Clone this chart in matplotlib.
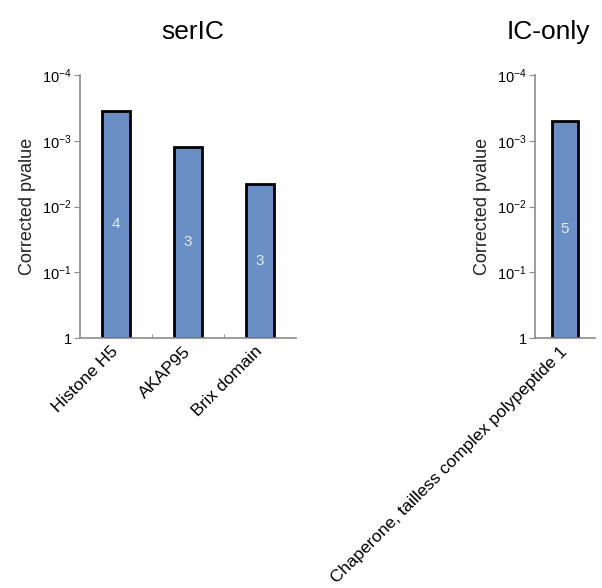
import matplotlib
matplotlib.use('Agg')
import matplotlib.pyplot as plt
from matplotlib.ticker import FixedLocator

plt.rcParams['font.family'] = ['Liberation Sans', 'DejaVu Sans']
plt.rcParams['mathtext.fontset'] = 'custom'
plt.rcParams['mathtext.rm'] = 'Liberation Sans'
plt.rcParams['mathtext.it'] = 'Liberation Sans'

# serIC panel
ser_terms = ['Histone H5', 'AKAP95', 'Brix domain']
ser_pvals = [3.5e-4, 1.23e-3, 4.5e-3]
ser_counts = [4, 3, 3]

# IC-only panel
ic_terms = ['Chaperone, tailless complex polypeptide 1']
ic_pvals = [5.0e-4]
ic_counts = [5]

y_ticks = [1, 1e-1, 1e-2, 1e-3, 1e-4]
y_labels = ['1', r'$10^{-1}$', r'$10^{-2}$', r'$10^{-3}$', r'$10^{-4}$']

BAR = '#6a8fc4'
GREY = '#8c8c8c'

fig = plt.figure(figsize=(6.02, 5.88), dpi=100)


def draw_panel(ax, terms, pvals, counts, width):
    x = list(range(len(terms)))
    ax.bar(x, [p - 1 for p in pvals], bottom=1, width=width,
           color=BAR, edgecolor='black', linewidth=2)
    ax.set_yscale('log')
    ax.set_ylim(1, 1e-4)
    ax.set_xlim(-0.5, len(terms) - 0.5)
    ax.yaxis.set_major_locator(FixedLocator(y_ticks))
    ax.set_yticklabels(y_labels)
    ax.yaxis.set_minor_locator(FixedLocator([]))
    ax.tick_params(axis='y', direction='out', length=4, color=GREY,
                   labelsize=10.5, pad=2)
    ax.set_xticks(x)
    ax.set_xticklabels(terms, rotation=45, ha='right', va='center',
                       rotation_mode='anchor', fontsize=12.5)
    ax.tick_params(axis='x', length=0, pad=8)
    ax.set_xticks([i + 0.5 for i in x[:-1]], minor=True)
    ax.tick_params(axis='x', which='minor', direction='in', length=3,
                   color=GREY)
    for s in ['top', 'right']:
        ax.spines[s].set_visible(False)
    for s in ['left', 'bottom']:
        ax.spines[s].set_color(GREY)
        ax.spines[s].set_linewidth(1.2)
    ax.set_ylabel('Corrected pvalue', fontsize=13, color='#222222',
                  labelpad=4)
    for xi, p, c in zip(x, pvals, counts):
        mid = p ** 0.5
        ax.text(xi, mid, str(c), ha='center', va='center',
                color='#e4ecf7', fontsize=11)


ax1 = fig.add_axes([80 / 602, 1 - 338 / 588, 216 / 602, 263 / 588])
draw_panel(ax1, ser_terms, ser_pvals, ser_counts, 0.4)

ax2 = fig.add_axes([535 / 602, 1 - 338 / 588, 60 / 602, 263 / 588])
draw_panel(ax2, ic_terms, ic_pvals, ic_counts, 0.42)

fig.text(193 / 602, 1 - 32 / 588, 'serIC', ha='center', va='center',
         fontsize=19)
fig.text(548 / 602, 1 - 32 / 588, 'IC-only', ha='center', va='center',
         fontsize=19)

fig.savefig('out.png', dpi=100)
